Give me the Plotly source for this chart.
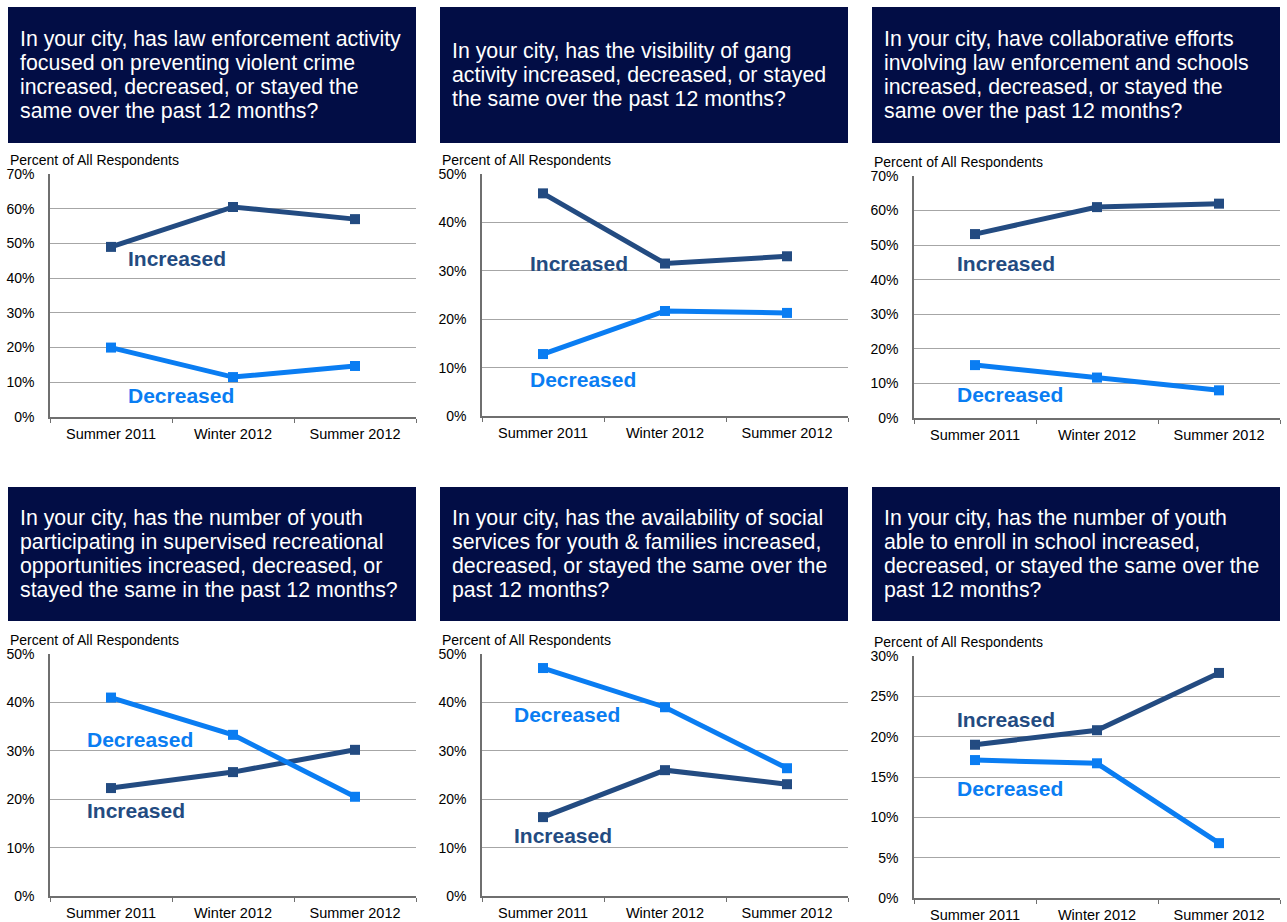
import plotly.graph_objects as go

W, H = 1287, 922

categories = ["Summer 2011", "Winter 2012", "Summer 2012"]

questions = [
    ["In your city, has law enforcement activity",
     "focused on preventing violent crime",
     "increased, decreased, or stayed the",
     "same over the past 12 months?"],
    ["In your city, has the visibility of gang",
     "activity increased, decreased, or stayed",
     "the same over the past 12 months?"],
    ["In your city, have collaborative efforts",
     "involving law enforcement and schools",
     "increased, decreased, or stayed the",
     "same over the past 12 months?"],
    ["In your city, has the number of youth",
     "participating in supervised recreational",
     "opportunities increased, decreased, or",
     "stayed the same in the past 12 months?"],
    ["In your city, has the availability of social",
     "services for youth & families increased,",
     "decreased, or stayed the same over the",
     "past 12 months?"],
    ["In your city, has the number of youth",
     "able to enroll in school increased,",
     "decreased, or stayed the same over the",
     "past 12 months?"],
]

increased = [
    [49.0, 60.5, 57.0],
    [46.0, 31.5, 33.0],
    [53.2, 61.0, 62.0],
    [22.3, 25.6, 30.2],
    [16.3, 26.0, 23.1],
    [19.0, 20.8, 27.9],
]
decreased = [
    [20.0, 11.5, 14.7],
    [12.8, 21.7, 21.3],
    [15.3, 11.7, 8.0],
    [41.0, 33.3, 20.5],
    [47.1, 39.0, 26.4],
    [17.1, 16.7, 6.8],
]

y_max = [70, 50, 70, 50, 50, 30]
y_step = [10, 10, 10, 10, 10, 5]

# label annotation positions (category-index x, value y)
inc_label_pos = [(0.123, 45.8), (-0.123, 31.6), (-0.164, 44.8), (-0.213, 17.6), (-0.254, 12.6), (-0.164, 22.1)]
dec_label_pos = [(0.123, 6.3), (-0.123, 7.6), (-0.164, 6.7), (-0.213, 32.4), (-0.254, 37.4), (-0.164, 13.6)]

y_axis_title = "Percent of All Respondents"

INC_COLOR = "#234B81"
DEC_COLOR = "#0A7DF2"
HEADER_COLOR = "#020D45"
FONT = "Liberation Sans, Arial, sans-serif"

# layout geometry in pixels
panel_left = [8, 440, 872, 8, 440, 872]
header_top = [7, 7, 7, 487, 487, 487]
header_bottom = [143, 143, 143, 621, 621, 621]
plot_left = [50, 482, 914, 50, 482, 914]
plot_right = [416, 848, 1280, 416, 848, 1280]
plot_top = [174, 174, 176, 654, 654, 656]
plot_bottom = [417, 416, 418, 896, 896, 898]

def px(x):
    return x / W

def py(y):
    return 1 - y / H

fig = go.Figure()
layout = dict(
    width=W, height=H, autosize=False,
    margin=dict(l=0, r=0, t=0, b=0, pad=0, autoexpand=False),
    paper_bgcolor="white", plot_bgcolor="white",
    showlegend=False,
    font=dict(family=FONT, size=14, color="#000000"),
)
shapes = []
annotations = []

for i in range(6):
    sfx = "" if i == 0 else str(i + 1)
    xa = "x" + sfx
    ya = "y" + sfx
    fig.add_trace(go.Scatter(
        x=categories, y=increased[i], xaxis=xa, yaxis=ya,
        mode="lines+markers", line=dict(color=INC_COLOR, width=5),
        marker=dict(symbol="square", size=10, color=INC_COLOR),
        name="Increased"))
    fig.add_trace(go.Scatter(
        x=categories, y=decreased[i], xaxis=xa, yaxis=ya,
        mode="lines+markers", line=dict(color=DEC_COLOR, width=5),
        marker=dict(symbol="square", size=10, color=DEC_COLOR),
        name="Decreased"))

    layout["xaxis" + sfx] = dict(
        domain=[px(plot_left[i]), px(plot_right[i])],
        anchor=ya, type="category", range=[-0.5, 2.5], automargin=False,
        tickson="boundaries", ticks="outside", ticklen=4, tickcolor="#6F6F6F",
        showline=True, linecolor="#6F6F6F", linewidth=1.5,
        showgrid=False, zeroline=False, fixedrange=True,
        ticklabelstandoff=3,
        tickfont=dict(size=14.5, color="#000000", family=FONT),
    )
    layout["yaxis" + sfx] = dict(
        domain=[py(plot_bottom[i]), py(plot_top[i])],
        anchor=xa, range=[0, y_max[i]], dtick=y_step[i], tick0=0, automargin=False,
        ticksuffix="%", showline=True, linecolor="#6F6F6F", linewidth=1.5,
        showgrid=True, gridcolor="#A6A6A6", gridwidth=1, zeroline=False,
        ticks="", ticklabelstandoff=11, fixedrange=True,
        tickfont=dict(size=14, color="#000000", family=FONT),
    )

    # header box
    shapes.append(dict(type="rect", xref="paper", yref="paper",
                       x0=px(panel_left[i]), x1=px(plot_right[i]),
                       y0=py(header_bottom[i]), y1=py(header_top[i]),
                       fillcolor=HEADER_COLOR, line=dict(width=0), layer="below"))
    lines = questions[i]
    center = (header_top[i] + header_bottom[i]) / 2
    spacing = 24
    n = len(lines)
    for k, line in enumerate(lines):
        yc = center + (k - (n - 1) / 2) * spacing
        annotations.append(dict(
            xref="paper", yref="paper", x=px(panel_left[i] + 10), y=py(yc),
            xanchor="left", yanchor="middle", text=line, showarrow=False,
            font=dict(size=21.3, color="white", family=FONT)))

    # axis title
    annotations.append(dict(
        xref="paper", yref="paper", x=px(panel_left[i]), y=py(plot_top[i] - 14),
        xanchor="left", yanchor="middle", text=y_axis_title, showarrow=False,
        font=dict(size=14, color="#000000", family=FONT)))

    # series labels
    annotations.append(dict(
        xref=xa, yref=ya, x=inc_label_pos[i][0], y=inc_label_pos[i][1],
        xanchor="left", yanchor="middle", text="<b>Increased</b>", showarrow=False,
        font=dict(size=21, color=INC_COLOR, family=FONT)))
    annotations.append(dict(
        xref=xa, yref=ya, x=dec_label_pos[i][0], y=dec_label_pos[i][1],
        xanchor="left", yanchor="middle", text="<b>Decreased</b>", showarrow=False,
        font=dict(size=21, color=DEC_COLOR, family=FONT)))

layout["shapes"] = shapes
layout["annotations"] = annotations
fig.update_layout(**layout)
fig.write_html(
    "out.html",
    config={"displayModeBar": False},
    post_script="document.body.style.margin='0';document.body.style.overflow='hidden';",
)
